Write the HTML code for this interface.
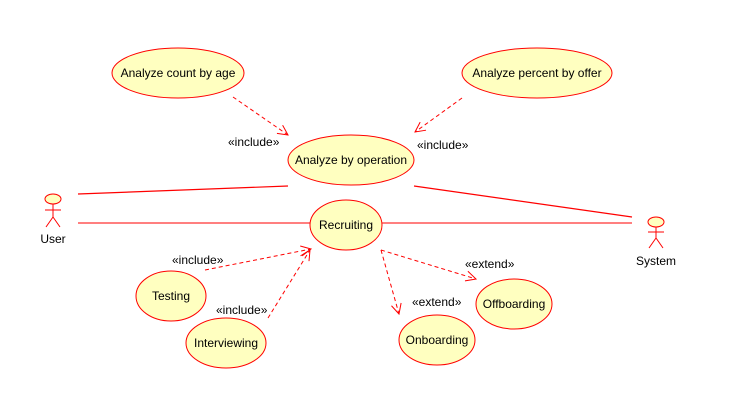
<!DOCTYPE html>
<html><head><style>body{margin:0;background:#fff}svg{display:block}</style></head><body>
<svg width="741" height="419" xmlns="http://www.w3.org/2000/svg" font-family="Liberation Sans, Arial, sans-serif" font-size="12">
<defs><marker id="a" markerWidth="12" markerHeight="12" refX="11" refY="6" orient="auto" markerUnits="userSpaceOnUse"><path d="M1,1 L11,6 L1,11" fill="none" stroke="#f00" stroke-width="1"/></marker></defs>
<g stroke="#f00" stroke-width="1.2" fill="none">
<line x1="78" y1="194" x2="288" y2="186"/>
<line x1="78" y1="223" x2="310" y2="223" stroke="#f55" stroke-width="1.6"/>
<line x1="414" y1="186" x2="632" y2="217"/>
<line x1="381" y1="223" x2="632" y2="223" stroke="#f55" stroke-width="1.6"/>
</g>
<g stroke="#f00" stroke-width="1" fill="none" stroke-dasharray="4,3" marker-end="url(#a)">
<line x1="233" y1="97" x2="288" y2="135"/>
<line x1="462" y1="98" x2="415" y2="132"/>
<line x1="205" y1="270" x2="311" y2="249"/>
<line x1="268" y1="318" x2="310" y2="250"/>
<line x1="381" y1="250" x2="476" y2="279"/>
<line x1="381" y1="250" x2="399" y2="314"/>
</g>
<g fill="#ffffc0" stroke="#f00" stroke-width="1">
<ellipse cx="178" cy="73" rx="66" ry="25"/>
<ellipse cx="537" cy="73" rx="75" ry="25"/>
<ellipse cx="351" cy="160" rx="63" ry="25"/>
<ellipse cx="346" cy="225" rx="36" ry="25"/>
<ellipse cx="171" cy="296" rx="35" ry="25"/>
<ellipse cx="226" cy="343" rx="40" ry="25"/>
<ellipse cx="437" cy="340" rx="38" ry="25"/>
<ellipse cx="514" cy="304" rx="38" ry="25"/>
<ellipse cx="53" cy="199" rx="8" ry="5"/>
<ellipse cx="656" cy="222" rx="8" ry="5"/>
</g>
<g stroke="#f00" stroke-width="1" fill="none">
<path d="M53,204V217M45,210H61M53,217L46,227M53,217L60,227"/>
<path d="M656,227V238M648,232H664M656,238L649,248M656,238L663,248"/>
</g>
<g fill="#000" text-anchor="middle">
<text x="178" y="77">Analyze count by age</text>
<text x="537" y="77">Analyze percent by offer</text>
<text x="351" y="164">Analyze by operation</text>
<text x="346" y="229">Recruiting</text>
<text x="171" y="300">Testing</text>
<text x="226" y="347">Interviewing</text>
<text x="437" y="344">Onboarding</text>
<text x="514" y="308">Offboarding</text>
<text x="53" y="243">User</text>
<text x="656" y="265">System</text>
</g>
<g fill="#000">
<text x="228" y="146">«include»</text>
<text x="417" y="149">«include»</text>
<text x="172" y="264">«include»</text>
<text x="216" y="314">«include»</text>
<text x="465" y="268">«extend»</text>
<text x="412" y="306">«extend»</text>
</g>
</svg>
</body></html>
